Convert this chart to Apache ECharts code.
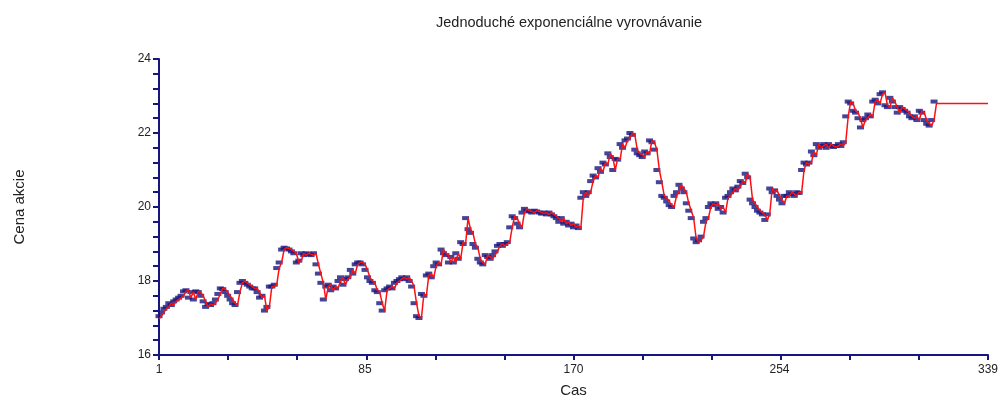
<!DOCTYPE html>
<html>
<head>
<meta charset="utf-8">
<script src="https://cdn.jsdelivr.net/npm/echarts@6/dist/echarts.min.js"></script>
<style>
  html, body { margin: 0; padding: 0; background: #fff; }
  #chart { width: 1001px; height: 399px; }
</style>
</head>
<body>
<div id="chart"></div>
<script>
// observed prices, t = 1..317
const prices = [
  17.05, 17.15, 17.25, 17.3, 17.4, 17.35, 17.45, 17.5,
  17.55, 17.6, 17.72, 17.75, 17.55, 17.7, 17.5, 17.72,
  17.7, 17.6, 17.45, 17.3, 17.38, 17.35, 17.4, 17.5,
  17.65, 17.8, 17.78, 17.7, 17.6, 17.5, 17.4, 17.35,
  17.7, 17.95, 18.0, 17.95, 17.9, 17.85, 17.8, 17.8,
  17.7, 17.55, 17.6, 17.2, 17.3, 17.85, 17.85, 17.9,
  18.35, 18.5, 18.85, 18.9, 18.88, 18.85, 18.8, 18.75,
  18.5, 18.55, 18.75, 18.7, 18.75, 18.72, 18.7, 18.75,
  18.45, 18.2, 17.95, 17.5, 17.85, 17.9, 17.75, 17.85,
  17.8, 18.0, 18.1, 17.9, 18.05, 18.1, 18.3, 18.2,
  18.45, 18.5, 18.5, 18.45, 18.3, 18.1, 18.0, 17.95,
  17.75, 17.7, 17.4, 17.2, 17.75, 17.8, 17.85, 17.8,
  17.95, 18.0, 18.05, 18.1, 18.05, 18.1, 18.0, 17.85,
  17.4, 17.05, 17.0, 17.65, 17.6, 18.15, 18.2, 18.1,
  18.4, 18.5, 18.45, 18.85, 18.75, 18.7, 18.5, 18.65,
  18.5, 18.75, 18.6, 19.05, 19.0, 19.7, 19.4, 19.3,
  19.0, 18.9, 18.6, 18.5, 18.45, 18.7, 18.65, 18.6,
  18.7, 18.8, 18.95, 19.0, 18.95, 19.0, 19.05, 19.45,
  19.75, 19.7, 19.55, 19.45, 19.85, 19.95, 19.9, 19.88,
  19.85, 19.9, 19.88, 19.85, 19.82, 19.85, 19.8, 19.85,
  19.8, 19.75, 19.7, 19.6, 19.7, 19.55, 19.6, 19.5,
  19.55, 19.45, 19.5, 19.43, 20.25, 20.4, 20.3, 20.4,
  20.7, 20.85, 20.8, 21.05, 20.95, 21.2, 21.15, 21.45,
  21.35, 21.0, 21.3, 21.28, 21.7, 21.6, 21.8, 21.85,
  22.0, 21.95, 21.55, 21.45, 21.4, 21.35, 21.5, 21.45,
  21.8, 21.75, 21.55, 21.0, 20.67, 20.3, 20.25, 20.15,
  20.05, 20.0, 20.3, 20.4, 20.6, 20.5, 20.4, 20.1,
  19.9, 19.7, 19.15, 19.05, 19.1, 19.2, 19.6, 19.7,
  20.0, 20.1, 20.05, 20.1, 19.95, 20.0, 19.85, 20.25,
  20.3, 20.4, 20.5, 20.45, 20.55, 20.7, 20.65, 20.9,
  20.8, 20.2, 20.1, 20.0, 19.9, 19.85, 19.8, 19.65,
  19.8, 20.5, 20.4, 20.45, 20.3, 20.2, 20.1, 20.3,
  20.3, 20.4, 20.35, 20.3, 20.4, 20.38, 21.0, 21.2,
  21.15, 21.2, 21.5, 21.4, 21.7, 21.6, 21.65, 21.7,
  21.6, 21.7, 21.65, 21.62, 21.65, 21.7, 21.65, 21.75,
  22.45, 22.85, 22.8, 22.6, 22.55, 22.4, 22.15, 22.35,
  22.4, 22.5, 22.45, 22.85, 22.9, 22.8, 23.05, 23.1,
  22.75, 22.7, 22.95, 22.85, 22.7, 22.55, 22.7, 22.65,
  22.6, 22.55, 22.45, 22.4, 22.45, 22.35, 22.6, 22.55,
  22.35, 22.25, 22.2, 22.35, 22.85
];

// smoothed / forecast line, t = 1..339
const smoothed = [
  16.97,
  17.05, 17.15, 17.25, 17.3, 17.4, 17.35, 17.45, 17.5,
  17.55, 17.6, 17.72, 17.75, 17.55, 17.7, 17.5, 17.72,
  17.7, 17.6, 17.45, 17.3, 17.38, 17.35, 17.4, 17.5,
  17.65, 17.8, 17.78, 17.7, 17.6, 17.5, 17.4, 17.35,
  17.7, 17.95, 18.0, 17.95, 17.9, 17.85, 17.8, 17.8,
  17.7, 17.55, 17.6, 17.2, 17.3, 17.85, 17.85, 17.9,
  18.35, 18.5, 18.85, 18.9, 18.88, 18.85, 18.8, 18.75,
  18.5, 18.55, 18.75, 18.7, 18.75, 18.72, 18.7, 18.75,
  18.45, 18.2, 17.95, 17.5, 17.85, 17.9, 17.75, 17.85,
  17.8, 18.0, 18.1, 17.9, 18.05, 18.1, 18.3, 18.2,
  18.45, 18.5, 18.5, 18.45, 18.3, 18.1, 18.0, 17.95,
  17.75, 17.7, 17.4, 17.2, 17.75, 17.8, 17.85, 17.8,
  17.95, 18.0, 18.05, 18.1, 18.05, 18.1, 18.0, 17.85,
  17.4, 17.05, 17.0, 17.65, 17.6, 18.15, 18.2, 18.1,
  18.4, 18.5, 18.45, 18.85, 18.75, 18.7, 18.5, 18.65,
  18.5, 18.75, 18.6, 19.05, 19.0, 19.7, 19.4, 19.3,
  19.0, 18.9, 18.6, 18.5, 18.45, 18.7, 18.65, 18.6,
  18.7, 18.8, 18.95, 19.0, 18.95, 19.0, 19.05, 19.45,
  19.75, 19.7, 19.55, 19.45, 19.85, 19.95, 19.9, 19.88,
  19.85, 19.9, 19.88, 19.85, 19.82, 19.85, 19.8, 19.85,
  19.8, 19.75, 19.7, 19.6, 19.7, 19.55, 19.6, 19.5,
  19.55, 19.45, 19.5, 19.43, 20.25, 20.4, 20.3, 20.4,
  20.7, 20.85, 20.8, 21.05, 20.95, 21.2, 21.15, 21.45,
  21.35, 21.0, 21.3, 21.28, 21.7, 21.6, 21.8, 21.85,
  22.0, 21.95, 21.55, 21.45, 21.4, 21.35, 21.5, 21.45,
  21.8, 21.75, 21.55, 21.0, 20.67, 20.3, 20.25, 20.15,
  20.05, 20.0, 20.3, 20.4, 20.6, 20.5, 20.4, 20.1,
  19.9, 19.7, 19.15, 19.05, 19.1, 19.2, 19.6, 19.7,
  20.0, 20.1, 20.05, 20.1, 19.95, 20.0, 19.85, 20.25,
  20.3, 20.4, 20.5, 20.45, 20.55, 20.7, 20.65, 20.9,
  20.8, 20.2, 20.1, 20.0, 19.9, 19.85, 19.8, 19.65,
  19.8, 20.5, 20.4, 20.45, 20.3, 20.2, 20.1, 20.3,
  20.3, 20.4, 20.35, 20.3, 20.4, 20.38, 21.0, 21.2,
  21.15, 21.2, 21.5, 21.4, 21.7, 21.6, 21.65, 21.7,
  21.6, 21.7, 21.65, 21.62, 21.65, 21.7, 21.65, 21.75,
  22.45, 22.85, 22.8, 22.6, 22.55, 22.4, 22.15, 22.35,
  22.4, 22.5, 22.45, 22.85, 22.9, 22.8, 23.05, 23.1,
  22.75, 22.7, 22.95, 22.85, 22.7, 22.55, 22.7, 22.65,
  22.6, 22.55, 22.45, 22.4, 22.45, 22.35, 22.6, 22.55,
  22.35, 22.25, 22.2, 22.35,
  22.8, 22.8, 22.8, 22.8, 22.8, 22.8, 22.8, 22.8, 22.8, 22.8, 22.8,
  22.8, 22.8, 22.8, 22.8, 22.8, 22.8, 22.8, 22.8, 22.8, 22.8, 22.8
];

// axis ticks and labels
const xLabels = [1, 85, 170, 254, 339];
const xTicks = [1, 29.17, 57.33, 85.5, 113.67, 141.83, 170, 198.17, 226.33, 254.5, 282.67, 310.83, 339];
const yLabels = [16, 18, 20, 22, 24];
const yTicks = [16, 16.4, 16.8, 17.2, 17.6, 18, 18.4, 18.8, 19.2, 19.6, 20,
  20.4, 20.8, 21.2, 21.6, 22, 22.4, 22.8, 23.2, 23.6, 24];

const navy = '#16167e';
const font = 'Liberation Sans, Arial, sans-serif';

const chart = echarts.init(document.getElementById('chart'), null, { renderer: 'canvas' });

chart.setOption({
  animation: false,
  backgroundColor: '#fff',
  title: {
    text: 'Jednoduché exponenciálne vyrovnávanie',
    left: 431,
    top: 10,
    textStyle: { fontFamily: font, fontSize: 14.5, fontWeight: 'normal', color: '#222' }
  },
  grid: { left: 159, right: 13, top: 59, bottom: 44, outerBoundsMode: 'none', containLabel: false },
  xAxis: {
    type: 'value',
    min: 1,
    max: 339,
    name: 'Cas',
    nameLocation: 'middle',
    nameGap: 28,
    nameTextStyle: { fontFamily: font, fontSize: 15, color: '#222' },
    axisLine: { show: true, lineStyle: { color: navy, width: 2 } },
    axisTick: { show: true, length: 5, customValues: xTicks, lineStyle: { color: navy, width: 2 } },
    axisLabel: { customValues: xLabels, margin: 9, fontFamily: font, fontSize: 12, color: '#222' },
    splitLine: { show: false }
  },
  yAxis: {
    type: 'value',
    min: 16,
    max: 24,
    name: 'Cena akcie',
    nameLocation: 'middle',
    nameRotate: 90,
    nameGap: 132,
    nameTextStyle: { fontFamily: font, fontSize: 15, color: '#222' },
    axisLine: { show: true, lineStyle: { color: navy, width: 2 } },
    axisTick: { show: true, length: 6, customValues: yTicks, lineStyle: { color: navy, width: 2 } },
    axisLabel: { customValues: yLabels, margin: 8, fontFamily: font, fontSize: 12, color: '#222' },
    splitLine: { show: false }
  },
  series: [
    {
      name: 'Cena',
      type: 'scatter',
      symbol: 'rect',
      symbolSize: [7, 4],
      itemStyle: { color: navy },
      data: prices.map((v, i) => [i + 1, v]),
      z: 2
    },
    {
      name: 'Vyrovnane',
      type: 'line',
      showSymbol: false,
      lineStyle: { color: '#ff1010', width: 1.5 },
      data: smoothed.map((v, i) => [i + 1, v]),
      z: 3
    }
  ]
});
</script>
</body>
</html>
